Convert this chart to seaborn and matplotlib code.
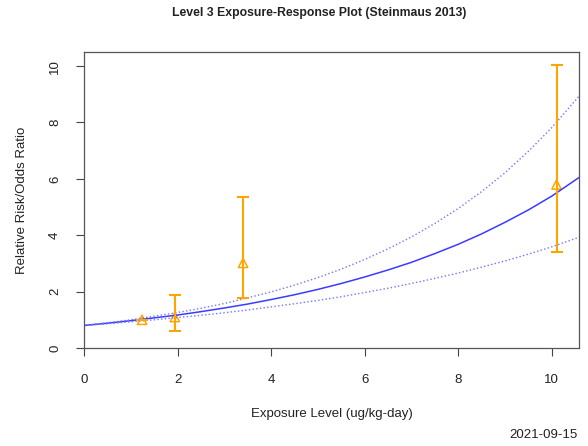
"""Level 3 exposure-response plot (Steinmaus 2013)."""

import matplotlib
matplotlib.use("Agg")
import matplotlib.pyplot as plt
import pandas as pd
import seaborn as sns

# observed study points (exposure, estimate, lower CI, upper CI)
study_x = [1.24, 1.94, 3.40, 10.10]
study_y = [1.00, 1.10, 3.02, 5.80]
study_lo = [1.00, 0.60, 1.77, 3.40]
study_hi = [1.00, 1.87, 5.35, 10.05]

# fitted curve and bounds
curve_x = [0, 0.5, 1, 1.5, 2, 2.5, 3, 3.5, 4, 4.5, 5, 5.5, 6, 6.5, 7,
           7.5, 8, 8.5, 9, 9.5, 10, 10.6]
curve_mid = [0.80, 0.88, 0.97, 1.07, 1.17, 1.29, 1.42, 1.56, 1.72, 1.89,
             2.08, 2.29, 2.52, 2.77, 3.04, 3.35, 3.68, 4.05, 4.46, 4.90,
             5.39, 6.07]
curve_upper = [0.80, 0.90, 1.00, 1.13, 1.26, 1.41, 1.58, 1.78, 1.99, 2.23,
               2.50, 2.80, 3.14, 3.52, 3.94, 4.42, 4.95, 5.55, 6.22, 6.98,
               7.82, 8.97]
curve_lower = [0.80, 0.86, 0.93, 1.00, 1.08, 1.16, 1.25, 1.35, 1.46, 1.57,
               1.69, 1.82, 1.97, 2.12, 2.29, 2.47, 2.66, 2.87, 3.09, 3.33,
               3.59, 3.94]

x_ticks = [0, 2, 4, 6, 8, 10]
y_ticks = [0, 2, 4, 6, 8, 10]

sns.set_style("white")
plt.rcParams["font.family"] = ["Liberation Sans", "DejaVu Sans"]

fig = plt.figure(figsize=(5.88, 4.46), dpi=100)
ax = fig.add_axes([0.1429, 0.2197, 0.8418, 0.6637])

curves = pd.DataFrame({"x": curve_x, "mid": curve_mid,
                       "upper": curve_upper, "lower": curve_lower})
sns.lineplot(data=curves, x="x", y="mid", ax=ax, color="#3b3bff", linewidth=1.1)
sns.lineplot(data=curves, x="x", y="upper", ax=ax, color="#7474ff",
             linewidth=1.0, linestyle=":")
sns.lineplot(data=curves, x="x", y="lower", ax=ax, color="#7474ff",
             linewidth=1.0, linestyle=":")

yerr = [[y - lo for y, lo in zip(study_y, study_lo)],
        [hi - y for y, hi in zip(study_y, study_hi)]]
ax.errorbar(study_x, study_y, yerr=yerr, fmt="none", ecolor="#ffa500",
            elinewidth=1.5, capsize=4, capthick=1.5)
sns.scatterplot(x=study_x, y=study_y, ax=ax, marker="^", s=45,
                facecolor="none", edgecolor="#ffa500", linewidth=1.1)

ax.set_xlim(0, 10.58)
ax.set_ylim(0, 10.5)
ax.set_xticks(x_ticks)
ax.set_yticks(y_ticks)
ax.set_yticklabels([str(t) for t in y_ticks], rotation=90, va="center")
ax.tick_params(axis="both", direction="out", length=5.5, width=0.8,
               color="#444444", labelsize=9.5, labelcolor="#222222",
               left=True, bottom=True)
ax.tick_params(axis="x", pad=13)
ax.tick_params(axis="y", pad=11)
for spine in ax.spines.values():
    spine.set_color("#555555")
    spine.set_linewidth(0.9)

ax.set_xlabel("Exposure Level (ug/kg-day)", fontsize=9.5, color="#222222",
              labelpad=16)
ax.set_ylabel("Relative Risk/Odds Ratio", fontsize=9.5, color="#222222",
              labelpad=15)
fig.suptitle("Level 3 Exposure-Response Plot (Steinmaus 2013)",
             fontsize=8.8, fontweight="bold", color="#222222", y=0.985, x=0.542)
fig.text(0.983, 0.012, "2021-09-15", ha="right", va="bottom",
         fontsize=9.5, color="#222222")

fig.savefig("out.png", dpi=100, facecolor="white")
